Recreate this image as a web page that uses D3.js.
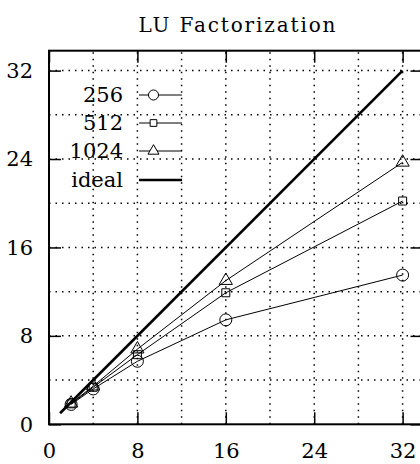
<!DOCTYPE html>
<html>
<head>
<meta charset="utf-8">
<script src="https://cdn.jsdelivr.net/npm/d3@7"></script>
<style>
  body { margin: 0; background: #fff; }
</style>
</head>
<body>
<div id="chart"></div>
<script>
// data
const procs = [2, 4, 8, 16, 32];
const s256 = [1.8, 3.2, 5.7, 9.45, 13.5];
const s512 = [1.85, 3.35, 6.3, 11.9, 20.2];
const s1024 = [1.9, 3.45, 6.8, 13.0, 23.7];
const idealX = [1, 32];
const tickValues = [0, 8, 16, 24, 32];
const gridValues = [4, 8, 12, 16, 20, 24, 28, 32];
const seriesNames = ["256", "512", "1024", "ideal"];

const width = 420, height = 464;
const FONT = "DejaVu Serif";

const x = d3.scaleLinear().domain([0, 33.8]).range([49, 422.5]);
const y = d3.scaleLinear().domain([0, 33.8]).range([424.3, 50.7]);

const svg = d3.select("#chart").append("svg")
    .attr("width", width)
    .attr("height", height);

// title
svg.append("text")
    .attr("x", 237).attr("y", 32)
    .attr("text-anchor", "middle")
    .attr("font-family", FONT)
    .attr("font-size", 20)
    .attr("textLength", 197)
    .text("LU Factorization");

// dotted grid
const grid = svg.append("g").attr("stroke", "#000").attr("stroke-width", 1.5)
    .attr("stroke-dasharray", "1.5,5");
grid.selectAll(".gx").data(gridValues).join("line")
    .attr("x1", d => x(d)).attr("x2", d => x(d))
    .attr("y1", y(0)).attr("y2", y(33.8));
grid.selectAll(".gy").data(gridValues).join("line")
    .attr("y1", d => y(d)).attr("y2", d => y(d))
    .attr("x1", x(0)).attr("x2", x(33.8));

// axes with inward ticks on all sides
function styleAxis(g, labels) {
    g.attr("font-family", FONT).attr("font-size", 21);
    g.select(".domain").remove();
    g.selectAll(".tick line").attr("stroke", "#000").attr("stroke-width", 1.5);
    g.selectAll(".tick text").attr("fill", "#000");
    if (!labels) g.selectAll(".tick text").remove();
}
svg.append("g").attr("transform", `translate(0,${y(0)})`)
    .call(d3.axisBottom(x).tickValues(tickValues).tickSize(-12).tickPadding(19))
    .call(g => styleAxis(g, true));
svg.append("g").attr("transform", `translate(0,${y(33.8)})`)
    .call(d3.axisTop(x).tickValues(tickValues).tickSize(-12))
    .call(g => styleAxis(g, false));
svg.append("g").attr("transform", `translate(${x(0)},0)`)
    .call(d3.axisLeft(y).tickValues(tickValues).tickSize(-12).tickPadding(16))
    .call(g => styleAxis(g, true));
svg.append("g").attr("transform", `translate(${x(33.8)},0)`)
    .call(d3.axisRight(y).tickValues(tickValues).tickSize(-12))
    .call(g => styleAxis(g, false));

// frame
svg.append("rect")
    .attr("x", x(0)).attr("y", y(33.8))
    .attr("width", x(33.8) - x(0)).attr("height", y(0) - y(33.8))
    .attr("fill", "none").attr("stroke", "#000").attr("stroke-width", 2);

const line = d3.line().x(d => x(d[0])).y(d => y(d[1]));

// ideal line
svg.append("path")
    .datum(idealX.map(v => [v, v]))
    .attr("d", line)
    .attr("fill", "none").attr("stroke", "#000").attr("stroke-width", 2.6);

const series = [
    { name: seriesNames[0], vals: s256, sym: d3.symbolCircle, size: 113 },
    { name: seriesNames[1], vals: s512, sym: d3.symbolSquare, size: 64 },
    { name: seriesNames[2], vals: s1024, sym: d3.symbolTriangle, size: 75 }
];

series.forEach(s => {
    const pts = procs.map((p, i) => [p, s.vals[i]]);
    svg.append("path").datum(pts).attr("d", line)
        .attr("fill", "none").attr("stroke", "#000").attr("stroke-width", 1);
    svg.selectAll(null).data(pts).join("path")
        .attr("transform", d => `translate(${x(d[0])},${y(d[1])})`)
        .attr("d", d3.symbol(s.sym, s.size))
        .attr("fill", "none").attr("stroke", "#000").attr("stroke-width", 1);
});

// legend
const legY = [95, 123, 151, 180];
const leg = svg.append("g").attr("font-family", FONT).attr("font-size", 21);
seriesNames.forEach((name, i) => {
    leg.append("text")
        .attr("x", 123).attr("y", legY[i]).attr("dy", "0.35em")
        .attr("text-anchor", "end")
        .text(name);
    leg.append("line")
        .attr("x1", 139).attr("x2", 182)
        .attr("y1", legY[i]).attr("y2", legY[i])
        .attr("stroke", "#000").attr("stroke-width", i === 3 ? 2.6 : 1);
    if (i < 3) {
        leg.append("path")
            .attr("transform", `translate(153.5,${legY[i]})`)
            .attr("d", d3.symbol(series[i].sym, series[i].size * 0.7))
            .attr("fill", "#fff").attr("stroke", "#000").attr("stroke-width", 1);
    }
});
</script>
</body>
</html>
